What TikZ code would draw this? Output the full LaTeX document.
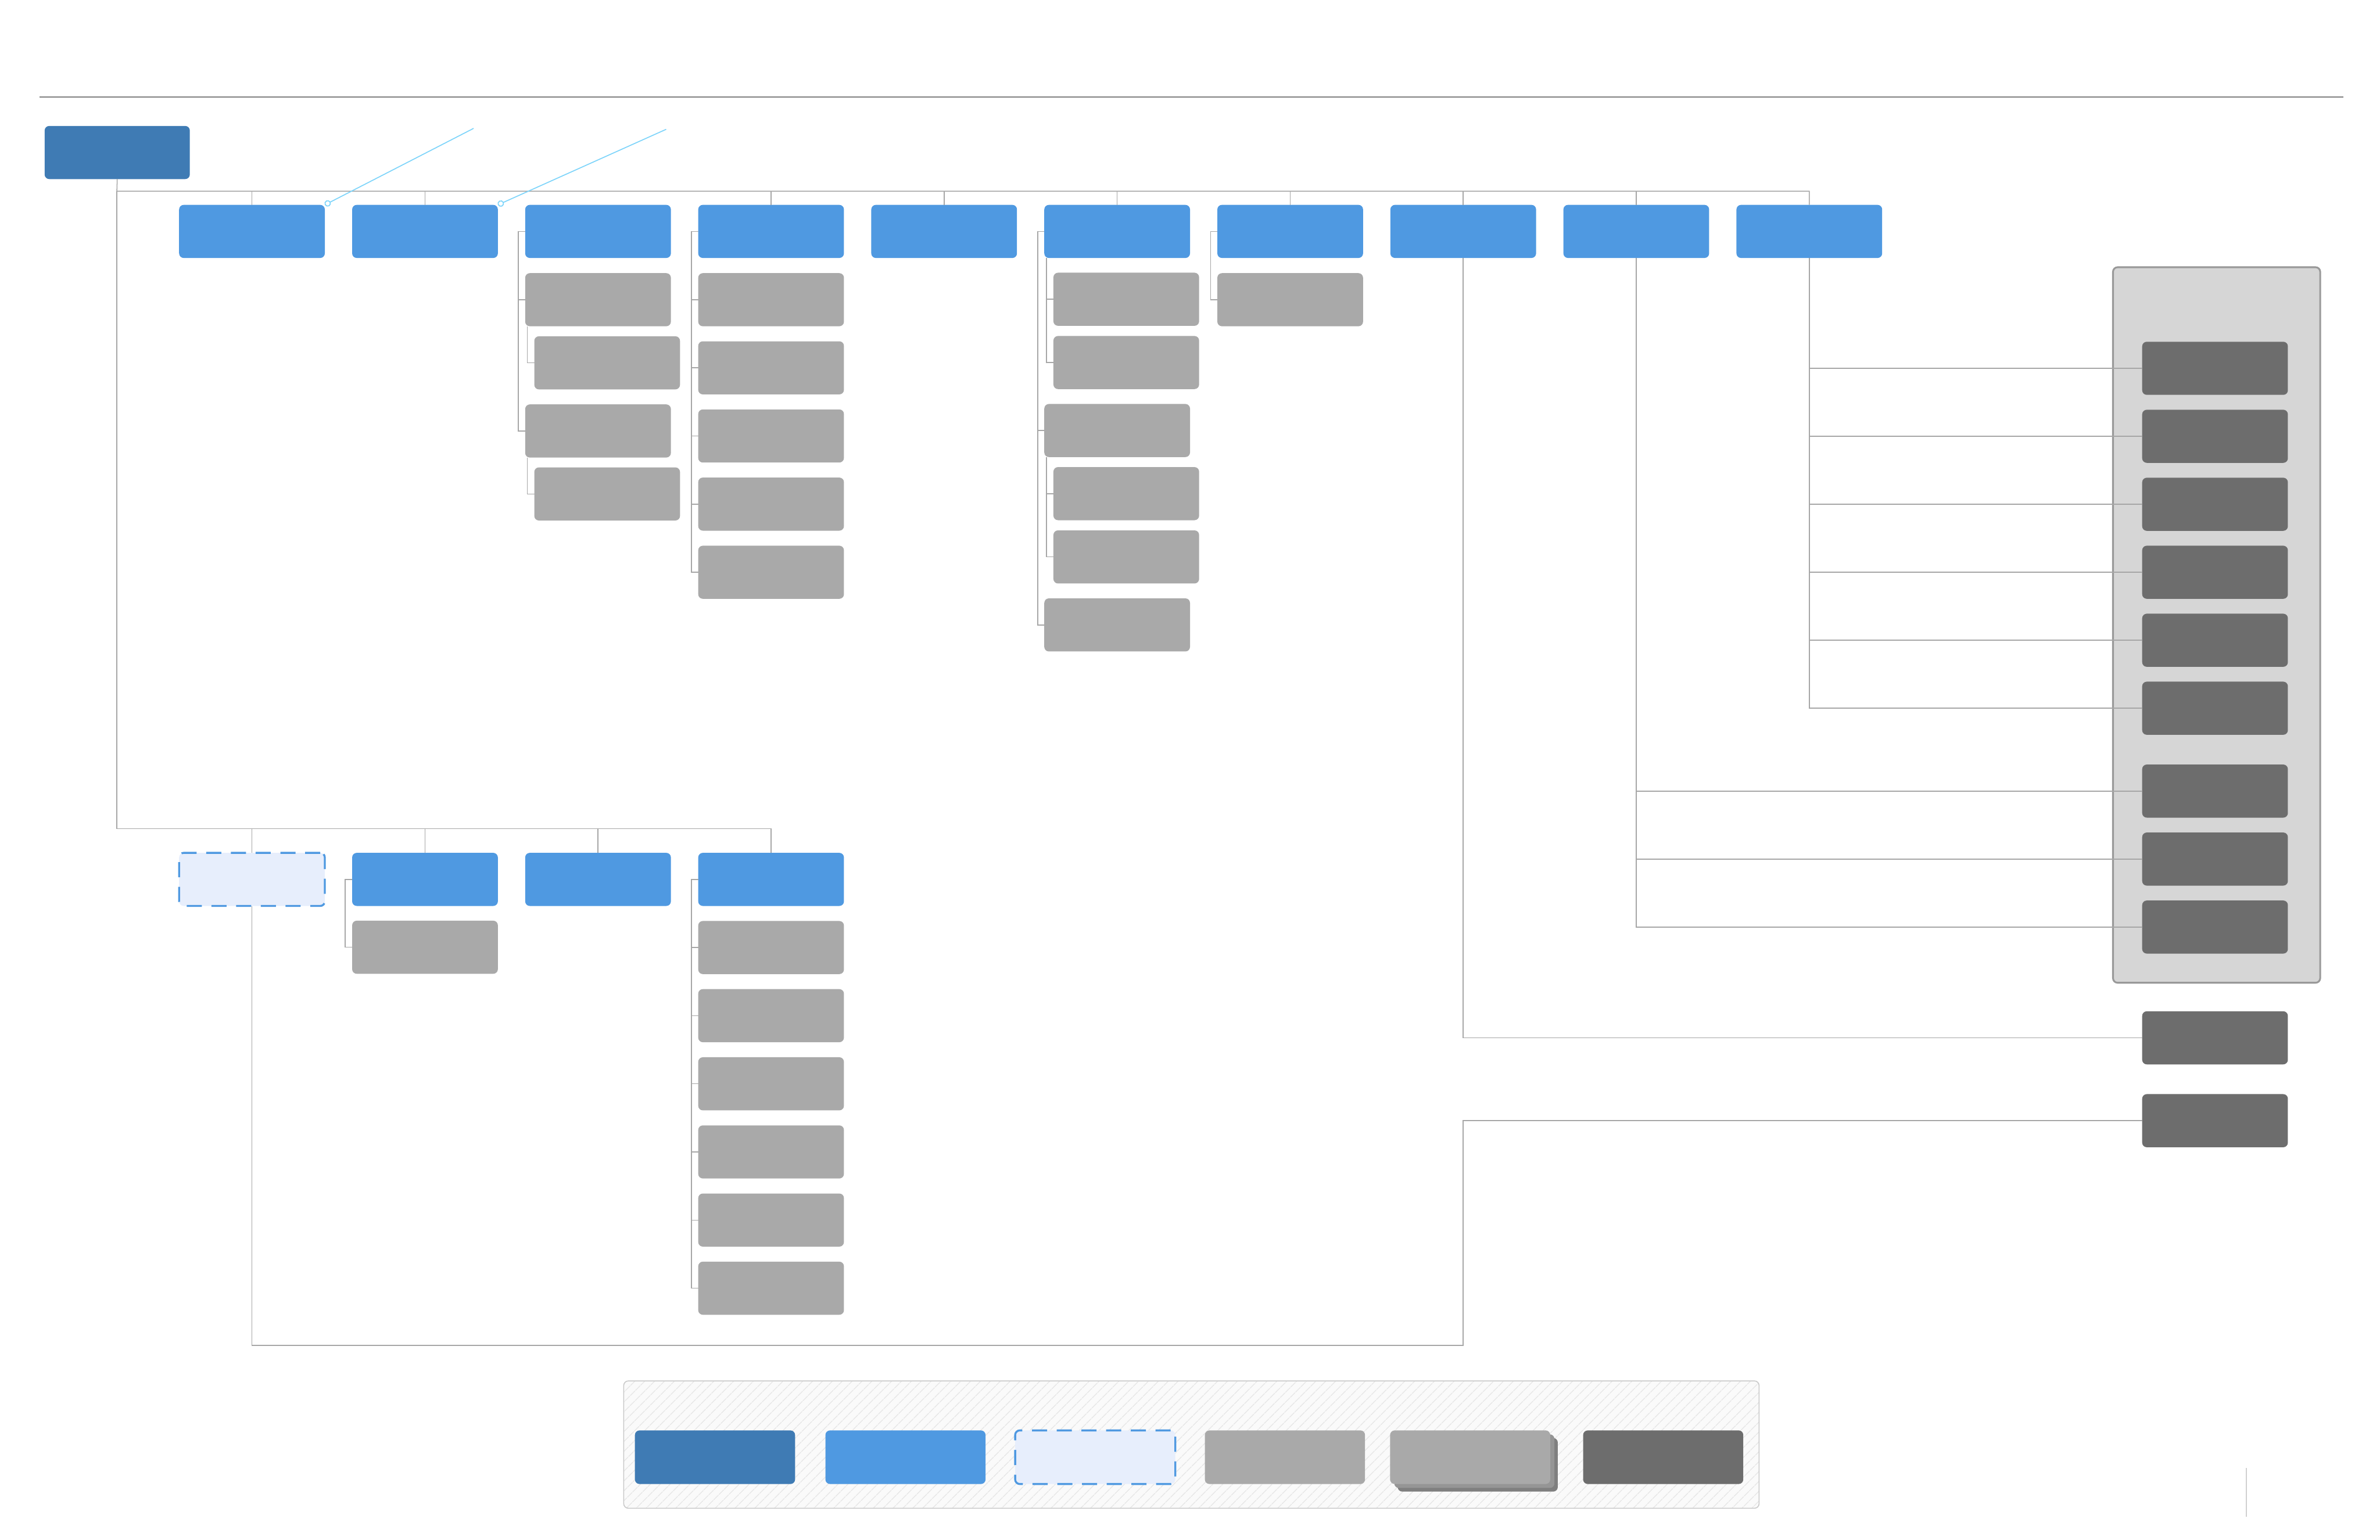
\documentclass[tikz,border=0pt]{standalone}
\usetikzlibrary{arrows.meta,patterns.meta}
\definecolor{cRoot}{HTML}{3F7BB4}
\definecolor{cBlue}{HTML}{4F99E1}
\definecolor{cGray}{HTML}{A9A9A9}
\definecolor{cDark}{HTML}{6D6D6D}
\definecolor{cGhost}{HTML}{E7EEFC}
\definecolor{cPanel}{HTML}{D6D6D6}
\definecolor{cPanelB}{HTML}{999999}
\definecolor{cLine}{HTML}{A6A6A6}
\definecolor{cAnno}{HTML}{7DD4FA}
\definecolor{cRule}{HTML}{7F7F7F}
\definecolor{cLegB}{HTML}{C8C8C8}
\definecolor{cHatch}{HTML}{E6E6E6}
\definecolor{cLegBg}{HTML}{FAFAFA}
\definecolor{cShA}{HTML}{959595}
\definecolor{cShB}{HTML}{7F7F7F}
\definecolor{cTick}{HTML}{D0D0D0}
\tikzset{
  box/.style={rectangle, rounded corners=2.6pt, inner sep=0pt, outer sep=0pt,
    minimum width=2.88cm, minimum height=1.05cm, anchor=north west},
  rootbox/.style={box, fill=cRoot},
  bluebox/.style={box, fill=cBlue},
  graybox/.style={box, fill=cGray},
  darkbox/.style={box, fill=cDark},
  ghostbox/.style={box, fill=cGhost, draw=cBlue, line width=1.1pt, dash pattern=on 8.5pt off 5.4pt},
  legbox/.style={box, minimum width=3.165cm, minimum height=1.06cm},
  panelbox/.style={rectangle, rounded corners=2.6pt, inner sep=0pt, anchor=north west,
    fill=cPanel, draw=cPanelB, line width=1pt, minimum width=4.095cm, minimum height=14.145cm},
  legendbox/.style={rectangle, rounded corners=2.6pt, inner sep=0pt, anchor=north west,
    draw=cLegB, line width=0.5pt, preaction={fill=cLegBg},
    pattern={Lines[angle=45,distance=4pt,line width=0.5pt]}, pattern color=cHatch,
    minimum width=22.44cm, minimum height=2.517cm},
  conn/.style={draw=cLine, line width=0.5pt},
  anno/.style={draw=cAnno, line width=0.55pt, {Circle[open,length=3.6pt,width=3.6pt]}-},
}
\begin{document}
\begin{tikzpicture}[x=0.03cm,y=-0.03cm]
\useasboundingbox (0,0) rectangle (1568,1014.5);

% header rule
\draw[cRule, line width=0.6pt] (26,64) -- (1544,64);

% right panel (container)
\node[panelbox] (panel) at (1391.5,175.5) {};

% root
\node[rootbox, minimum width=2.87cm] (root) at (29.4,83) {};

% top row
\foreach \i in {1,...,10} {
  \node[bluebox] (n\i) at ({118+114*(\i-1)},135) {};
}
% column 3
\node[graybox] (g3a)  at (346,180) {};
\node[graybox] (g3a1) at (352,221.6) {};
\node[graybox] (g3b)  at (346,266.5) {};
\node[graybox] (g3b1) at (352,308) {};
% column 4
\foreach \k in {1,...,5} {
  \node[graybox] (g4\k) at (460,{180+44.9*(\k-1)}) {};
}
% column 6
\node[graybox] (c1) at (694,179.7) {};
\node[graybox] (c2) at (694,221.4) {};
\node[graybox] (c3) at (688,266.2) {};
\node[graybox] (c4) at (694,307.8) {};
\node[graybox] (c5) at (694,349.5) {};
\node[graybox] (c6) at (688,394.3) {};
% column 7
\node[graybox] (g71) at (802,180) {};

% second row
\node[ghostbox] (m1) at (118,562) {};
\node[bluebox] (m2) at (232,562) {};
\node[bluebox] (m3) at (346,562) {};
\node[bluebox] (m4) at (460,562) {};
\node[graybox] (m21) at (232,606.7) {};
\foreach \k in {1,...,6} {
  \node[graybox] (m4\k) at (460,{606.9+44.9*(\k-1)}) {};
}

% dark nodes
\foreach \k/\y in {1/225.2,2/270,3/314.8,4/359.6,5/404.4,6/449.2,7/503.8,8/548.6,9/593.4,10/666.4,11/721} {
  \node[darkbox] (d\k) at (1411.3,\y) {};
}

% ---- connectors ----
% top bus
\coordinate (busA) at (77,126);
\draw[conn] (root.south) -- (busA) -| (n10.north);
\foreach \i in {1,2,4,5,6,7,8,9} {
  \draw[conn] (n\i.north |- busA) -- (n\i.north);
}
% second bus
\coordinate (busB) at (77,546);
\draw[conn] (busA) -- (busB) -| (m4.north);
\foreach \i in {1,2,3} {
  \draw[conn] (m\i.north |- busB) -- (m\i.north);
}

% column 3
\coordinate (v3) at ([xshift=-0.135cm]n3.west);
\draw[conn] (n3.west) -- (v3) |- (g3b.west);
\draw[conn] (v3 |- g3a.west) -- (g3a.west);
\coordinate (v3a) at ([xshift=0.04cm]g3a.south west);
\draw[conn] (v3a) |- (g3a1.west);
\coordinate (v3b) at ([xshift=0.04cm]g3b.south west);
\draw[conn] (v3b) |- (g3b1.west);

% column 4
\coordinate (v4) at ([xshift=-0.135cm]n4.west);
\draw[conn] (n4.west) -- (v4) |- (g45.west);
\foreach \k in {1,...,4} { \draw[conn] (v4 |- g4\k.west) -- (g4\k.west); }

% column 6
\coordinate (v6) at ([xshift=-0.132cm]n6.west);
\draw[conn] (n6.west) -- (v6) |- (c6.west);
\draw[conn] (v6 |- c3.west) -- (c3.west);
\coordinate (v6a) at ([xshift=0.045cm]n6.south west);
\draw[conn] (v6a) |- (c2.west);
\draw[conn] (v6a |- c1.west) -- (c1.west);
\coordinate (v6b) at ([xshift=0.045cm]c3.south west);
\draw[conn] (v6b) |- (c5.west);
\draw[conn] (v6b |- c4.west) -- (c4.west);

% column 7
\coordinate (v7) at ([xshift=-0.132cm]n7.west);
\draw[conn] (n7.west) -- (v7) |- (g71.west);

% second row children
\coordinate (vm2) at ([xshift=-0.138cm]m2.west);
\draw[conn] (m2.west) -- (vm2) |- (m21.west);
\coordinate (vm4) at ([xshift=-0.135cm]m4.west);
\draw[conn] (m4.west) -- (vm4) |- (m46.west);
\foreach \k in {1,...,5} { \draw[conn] (vm4 |- m4\k.west) -- (m4\k.west); }

% right side
\draw[conn] (n10.south) |- (d6.west);
\foreach \k in {1,...,5} { \draw[conn] (n10.south |- d\k.west) -- (d\k.west); }
\draw[conn] (n9.south) |- (d9.west);
\foreach \k in {7,8} { \draw[conn] (n9.south |- d\k.west) -- (d\k.west); }
\draw[conn] (n8.south) |- (d10.west);
\coordinate (loopC) at (964,886.5);
\draw[conn] (m1.south) |- (loopC) |- (d11.west);

% annotation lines
\coordinate (an1) at (312,84.6);
\coordinate (an2) at (438.9,85.2);
\draw[anno] (n1.north east) -- (an1);
\draw[anno] (n2.north east) -- (an2);

% legend
\node[legendbox] (legend) at (410.6,909.7) {};
\node[legbox, fill=cRoot] (L1) at (418.3,942.6) {};
\node[legbox, fill=cBlue] (L2) at (543.8,942.6) {};
\node[legbox, fill=cGhost, draw=cBlue, line width=1.1pt, dash pattern=on 8.5pt off 5.4pt] (L3) at (668.8,942.6) {};
\node[legbox, fill=cGray] (L4) at (793.8,942.6) {};
\node[legbox, fill=cShB] (L5c) at (920.8,947.6) {};
\node[legbox, fill=cShA] (L5b) at (918.6,945.2) {};
\node[legbox, fill=cGray] (L5) at (915.8,942.6) {};
\node[legbox, fill=cDark] (L6) at (1043,942.6) {};

% small mark bottom right
\draw[cTick, line width=0.55pt] (1480,967.3) -- (1480,999.4);
\end{tikzpicture}
\end{document}
